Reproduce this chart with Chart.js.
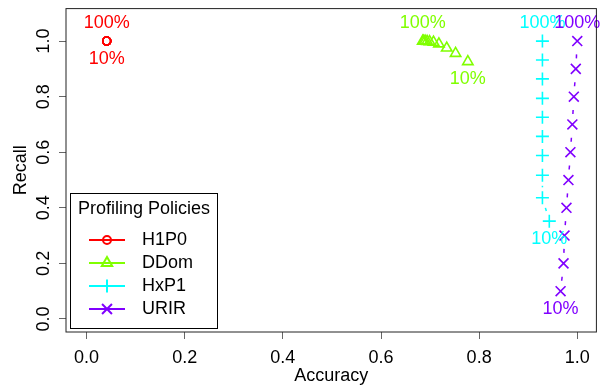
<!DOCTYPE html>
<html>
<head>
<meta charset="utf-8">
<script src="https://cdn.jsdelivr.net/npm/chart.js@4.4.1/dist/chart.umd.min.js"></script>
<style>
  html, body { margin: 0; padding: 0; background: #fff; }
  canvas { display: block; }
</style>
</head>
<body>
<canvas id="chart" width="605" height="388"></canvas>
<script>
// profiling levels, lowest first
const pctLevels = ['10%', '20%', '30%', '40%', '50%', '60%', '70%', '80%', '90%', '100%'];

const h1p0Accuracy = [0.041, 0.041, 0.041, 0.041, 0.041, 0.041, 0.041, 0.041, 0.041, 0.041];
const h1p0Recall   = [1.0, 1.0, 1.0, 1.0, 1.0, 1.0, 1.0, 1.0, 1.0, 1.0];

const ddomAccuracy = [0.777, 0.752, 0.734, 0.718, 0.707, 0.699, 0.694, 0.690, 0.687, 0.685];
const ddomRecall   = [0.926, 0.956, 0.975, 0.990, 0.996, 0.998, 0.999, 1.0, 1.0, 1.0];

const hxp1Accuracy = [0.943, 0.929, 0.929, 0.929, 0.929, 0.929, 0.929, 0.929, 0.929, 0.929];
const hxp1Recall   = [0.352, 0.436, 0.517, 0.588, 0.657, 0.726, 0.794, 0.864, 0.932, 1.0];

const urirAccuracy = [0.966, 0.972, 0.974, 0.978, 0.982, 0.986, 0.990, 0.993, 0.997, 1.0];
const urirRecall   = [0.1, 0.2, 0.3, 0.4, 0.5, 0.6, 0.7, 0.8, 0.9, 1.0];

const xTicks = [0, 0.2, 0.4, 0.6, 0.8, 1.0];
const yTicks = [0, 0.2, 0.4, 0.6, 0.8, 1.0];

const seriesNames  = ['H1P0', 'DDom', 'HxP1', 'URIR'];
const seriesColors = ['#FF0000', '#80FF00', '#00FFFF', '#8000FF'];
const pointShapes  = ['circle', 'triangle', 'cross', 'crossRot'];
const pointSizes   = [4, 6, 6.5, 7];
const pointWidths  = [1.5, 1.6, 1.6, 1.6];

const FONT = "'Liberation Sans', Arial, Helvetica, sans-serif";

function toPoints(xs, ys) {
  return xs.map((x, i) => ({ x: x, y: ys[i] }));
}

const seriesData = [
  toPoints(h1p0Accuracy, h1p0Recall),
  toPoints(ddomAccuracy, ddomRecall),
  toPoints(hxp1Accuracy, hxp1Recall),
  toPoints(urirAccuracy, urirRecall)
];

// R style type="b" dashed lines: segments trimmed around the points
const typeBLines = {
  id: 'typeBLines',
  beforeDatasetsDraw(chart) {
    const ctx = chart.ctx;
    const gap = 10.5;
    ctx.save();
    chart.data.datasets.forEach((ds, i) => {
      const pts = chart.getDatasetMeta(i).data;
      ctx.strokeStyle = seriesColors[i];
      ctx.lineWidth = 1.5;
      ctx.setLineDash([4, 4]);
      for (let k = 1; k < pts.length; k++) {
        const a = pts[k - 1], b = pts[k];
        const dx = b.x - a.x, dy = b.y - a.y;
        const d = Math.hypot(dx, dy);
        if (d <= gap * 2) continue;
        const ux = dx / d, uy = dy / d;
        ctx.beginPath();
        ctx.moveTo(a.x + ux * gap, a.y + uy * gap);
        ctx.lineTo(b.x - ux * gap, b.y - uy * gap);
        ctx.stroke();
      }
    });
    ctx.restore();
  }
};

// "10%" under the first point, "100%" above the last one
const endLabels = {
  id: 'endLabels',
  afterDatasetsDraw(chart) {
    const ctx = chart.ctx;
    ctx.save();
    ctx.font = '18px ' + FONT;
    ctx.textAlign = 'center';
    ctx.textBaseline = 'middle';
    chart.data.datasets.forEach((ds, i) => {
      const pts = chart.getDatasetMeta(i).data;
      const first = pts[0], last = pts[pts.length - 1];
      ctx.fillStyle = seriesColors[i];
      ctx.fillText(pctLevels[pctLevels.length - 1], last.x, last.y - 18.5);
      ctx.fillText(pctLevels[0], first.x, first.y + 17.5);
    });
    ctx.restore();
  }
};

const boxAndLegend = {
  id: 'boxAndLegend',
  afterDraw(chart) {
    const ctx = chart.ctx;
    const ca = chart.chartArea;
    ctx.save();
    ctx.strokeStyle = '#222';
    ctx.lineWidth = 1;
    ctx.strokeRect(ca.left, ca.top, ca.right - ca.left, ca.bottom - ca.top);

    // legend
    const lx = 70.5, ly = 193.5, lw = 147, lh = 135;
    ctx.fillStyle = '#fff';
    ctx.fillRect(lx, ly, lw, lh);
    ctx.strokeStyle = '#000';
    ctx.strokeRect(lx, ly, lw, lh);
    ctx.fillStyle = '#000';
    ctx.font = '18px ' + FONT;
    ctx.textAlign = 'center';
    ctx.textBaseline = 'middle';
    ctx.fillText('Profiling Policies', lx + lw / 2, 209.5);
    ctx.textAlign = 'left';
    seriesNames.forEach((name, i) => {
      const y = 240 + i * 23;
      ctx.strokeStyle = seriesColors[i];
      ctx.lineWidth = 2;
      ctx.setLineDash([]);
      ctx.beginPath();
      ctx.moveTo(89, y);
      ctx.lineTo(125, y);
      ctx.stroke();
      ctx.fillStyle = 'rgba(0,0,0,0)';
      Chart.helpers.drawPoint(ctx, {
        pointStyle: pointShapes[i], radius: pointSizes[i], borderWidth: 2, rotation: 0
      }, 107, y);
      ctx.fillStyle = '#000';
      ctx.fillText(name, 142, y);
    });
    ctx.restore();
  }
};

new Chart(document.getElementById('chart'), {
  type: 'scatter',
  data: {
    datasets: seriesNames.map((name, i) => ({
      label: name,
      data: seriesData[i],
      showLine: false,
      pointStyle: pointShapes[i],
      pointRadius: pointSizes[i],
      pointBorderWidth: pointWidths[i],
      borderColor: seriesColors[i],
      backgroundColor: 'rgba(0,0,0,0)'
    }))
  },
  options: {
    responsive: false,
    animation: false,
    events: [],
    layout: { padding: { top: 7, right: 6, left: 0, bottom: 0 } },
    plugins: {
      legend: { display: false },
      tooltip: { enabled: false }
    },
    scales: {
      x: {
        type: 'linear',
        min: -0.042,
        max: 1.039,
        afterFit: (s) => { s.height = 56; s.paddingLeft = 0; s.paddingRight = 0; },
        afterBuildTicks: (s) => { s.ticks = xTicks.map(v => ({ value: v })); },
        grid: { drawOnChartArea: false, drawTicks: true, tickLength: 7, color: '#666' },
        border: { display: false },
        ticks: {
          padding: 8,
          color: '#000',
          font: { family: FONT, size: 18 },
          callback: (v) => v.toFixed(1)
        },
        title: {
          display: true,
          text: 'Accuracy',
          color: '#000',
          font: { family: FONT, size: 18 },
          padding: { top: 0, bottom: 1 }
        }
      },
      y: {
        type: 'linear',
        min: -0.047,
        max: 1.117,
        afterFit: (s) => { s.width = 66; s.paddingTop = 0; s.paddingBottom = 0; },
        afterBuildTicks: (s) => { s.ticks = yTicks.map(v => ({ value: v })); },
        grid: { drawOnChartArea: false, drawTicks: true, tickLength: 7, color: '#666' },
        border: { display: false },
        ticks: {
          padding: 2,
          minRotation: 90,
          maxRotation: 90,
          crossAlign: 'center',
          color: '#000',
          font: { family: FONT, size: 18 },
          callback: (v) => v.toFixed(1)
        },
        title: {
          display: true,
          text: 'Recall',
          color: '#000',
          font: { family: FONT, size: 18 },
          padding: { top: 10.5, bottom: 0 }
        }
      }
    }
  },
  plugins: [typeBLines, endLabels, boxAndLegend]
});
</script>
</body>
</html>
